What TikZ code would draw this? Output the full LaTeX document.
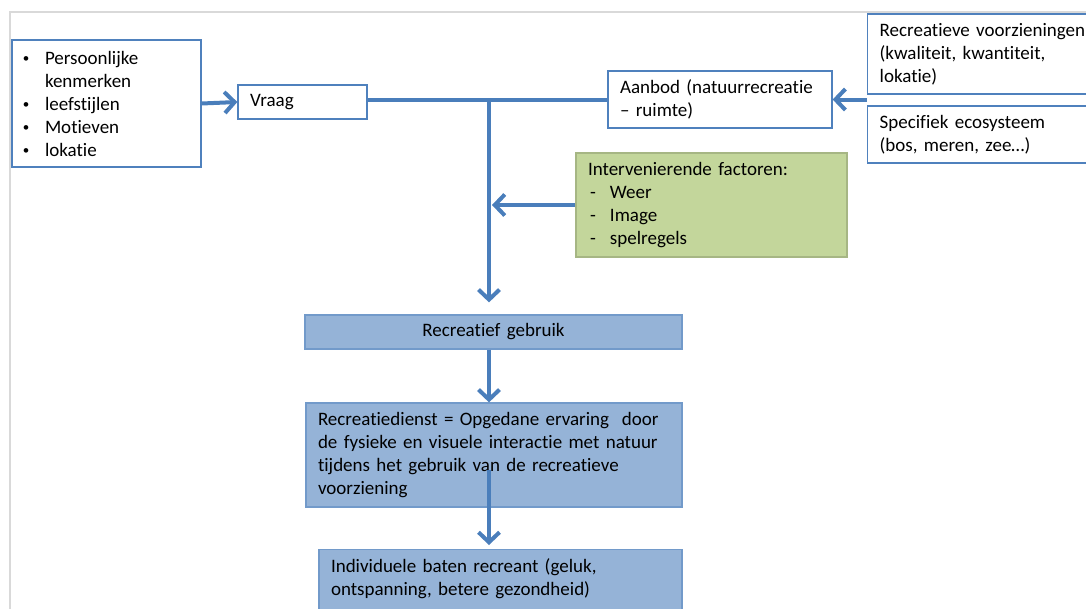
\documentclass[tikz,border=0pt]{standalone}
\usepackage{fontspec}
\setmainfont{Carlito}[Ligatures=NoCommon, WordSpace=0.7]
\usetikzlibrary{arrows.meta, positioning}
\definecolor{arrowblue}{RGB}{74,126,187}
\definecolor{lineblue}{RGB}{79,129,189}
\definecolor{fillblue}{RGB}{149,179,215}
\definecolor{fillgreen}{RGB}{195,214,155}
\definecolor{framegray}{RGB}{217,217,217}
\newcommand{\boxfont}{\fontsize{19}{23}\selectfont\hyphenpenalty=10000}
\newcommand{\bul}{\makebox[23pt][l]{\hspace{1pt}\raisebox{1.5pt}{\fontsize{13}{13}\selectfont\textbullet}}}
\newcommand{\dsh}{\makebox[22pt][l]{\hspace{2pt}-}}

\begin{document}
\begin{tikzpicture}[
    x=1pt, y=-1pt,
    >={Straight Barb[length=10pt, width=21pt]},
    wbox/.style={draw=lineblue, line width=1.3pt, fill=white, font=\boxfont,
                 align=left, inner xsep=12pt, inner ysep=0pt},
    bbox/.style={wbox, fill=fillblue, draw=lineblue!80},
    gbox/.style={wbox, fill=fillgreen, draw=fillgreen!85!black},
    conn/.style={draw=arrowblue, line width=4pt}
  ]
  \useasboundingbox (0,0) rectangle (1086,608);
  \draw[framegray, line width=2.5pt] (10,620) -- (10,12) -- (1100,12);

  \node[wbox, inner xsep=10pt, minimum width=189pt, minimum height=127pt,
        text width=169pt] (pers) at (106.5,103.5)
    {\bul Persoonlijke\\\hspace*{23pt}kenmerken\\\bul leefstijlen\\
     \bul Motieven\\\bul lokatie};
  \node[wbox, minimum width=129pt, minimum height=34pt, text width=105pt]
    (vraag) at (302.5,102) {Vraag};
  \node[wbox, minimum width=224pt, minimum height=57pt, text width=200pt]
    (aanbod) at (720,99.5) {Aanbod (natuurrecreatie\\-- ruimte)};
  \node[wbox, anchor=west, minimum height=80pt, text width=215pt]
    (voorz) at (867,54)
    {Recreatieve voorzieningen\\(kwaliteit, kwantiteit,\\lokatie)};
  \node[wbox, anchor=west, minimum height=57pt, text width=215pt]
    (eco) at (867,134.5) {Specifiek ecosysteem\\(bos, meren, zee\dots)};
  \node[gbox, minimum width=271pt, minimum height=104pt, text width=247pt]
    (factoren) at (711.5,205)
    {Intervenierende factoren:\\\dsh Weer\\\dsh Image\\\dsh spelregels};
  \node[bbox, align=center, minimum width=377pt, minimum height=34pt,
        text width=353pt] (gebruik) at (493.5,332) {Recreatief gebruik};
  \node[bbox, minimum width=376pt, minimum height=104pt, text width=352pt]
    (dienst) at (494,455)
    {Recreatiedienst = Opgedane ervaring\ \ door\\de fysieke en visuele
     interactie met natuur\\tijdens het gebruik van de recreatieve\\voorziening};
  \node[bbox, anchor=north, inner ysep=9pt, text depth=60pt,
        minimum width=363pt, text width=339pt] (baten) at (500.5,549)
    {Individuele baten recreant (geluk,\\ontspanning, betere gezondheid)};

  % connectors
  \coordinate (split) at (489,100);
  \coordinate (inside) at (489,470);
  \draw[conn, ->] (pers.east) -- (vraag.west);
  \draw[conn] (vraag.east |- split) -- (aanbod.west |- split);
  \draw[conn, ->, shorten >=12pt] (split) -- (split |- gebruik.north);
  \draw[conn, ->] (factoren.west) -- ([xshift=3pt]split |- factoren.west);
  \draw[conn, ->] (voorz.south west |- aanbod.east) -- (aanbod.east);
  \draw[conn, ->] (gebruik.south -| split) -- (dienst.north -| split);
  \draw[conn, ->, shorten >=4pt] (inside) -- (inside |- baten.north);
\end{tikzpicture}
\end{document}
